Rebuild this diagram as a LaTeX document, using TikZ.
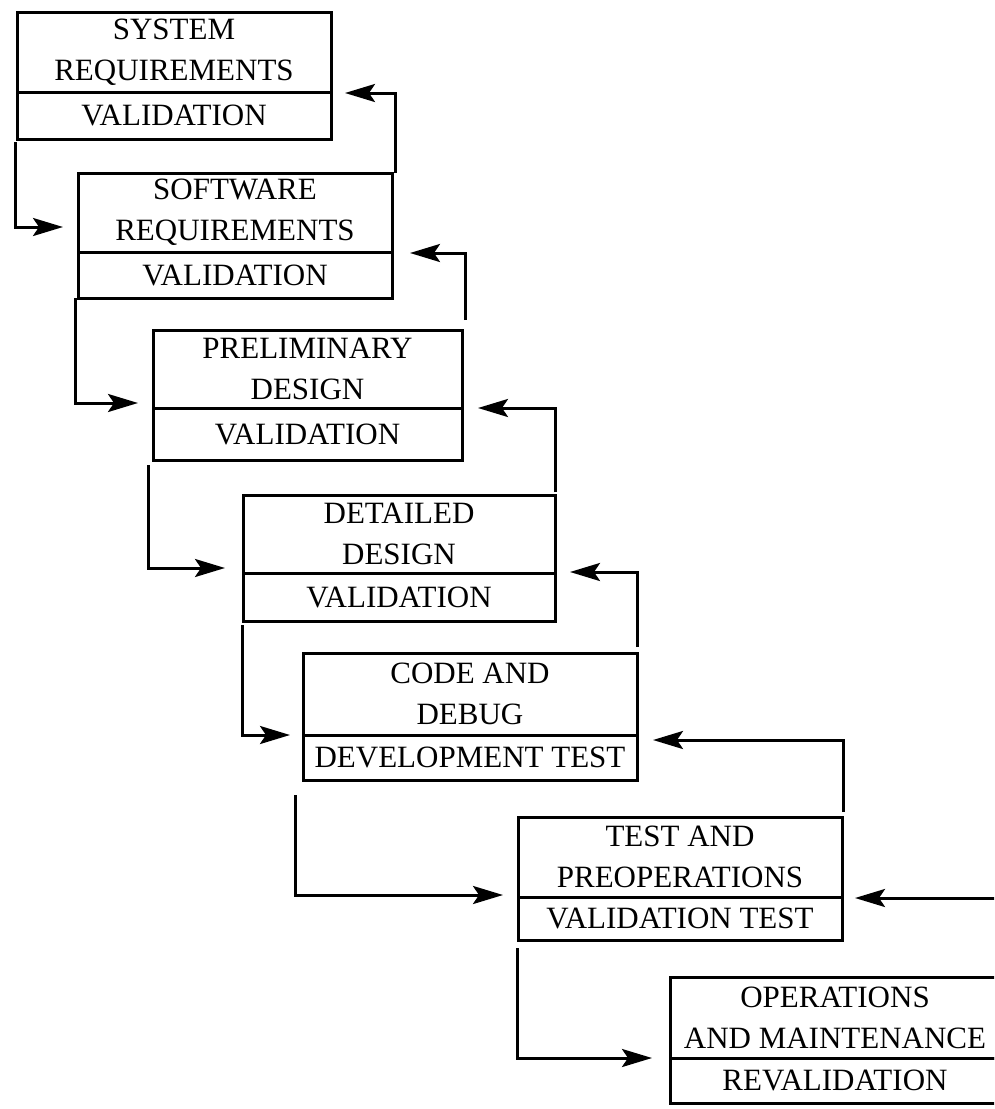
\documentclass[tikz,border=0pt]{standalone}
\usepackage{fontspec}
\setmainfont{Liberation Serif}
\usetikzlibrary{arrows.meta,calc}
% #1 name, #2 left, #3 top, #4 divider, #5 bottom, #6 right, #7 upper text, #8 lower text
\newcommand\phasebox[8]{%
  \node[part, minimum width={#6-#2}, minimum height={#4-#3}] (#1t) at (#2,#3) {#7};
  \node[part, minimum width={#6-#2}, minimum height={#5-#4}] (#1b) at (#2,#4) {#8};}
\begin{document}
\begin{tikzpicture}[x=1pt,y=-1pt,
  part/.style={draw, line width=3pt, rectangle, inner sep=0pt, outer sep=0pt,
    anchor=north west, align=center, font=\fontsize{31}{41}\selectfont},
  flow/.style={line width=3pt, -{Stealth[length=30pt,width=18pt,inset=6pt]}}]
\useasboundingbox (0,0) rectangle (994,1109);
\clip (0,0) rectangle (994,1109);
\fill[white] (0,0) rectangle (994,1109);

\phasebox{b1}{17}{12}{92}{139}{331}{SYSTEM\\REQUIREMENTS}{VALIDATION}
\phasebox{b2}{78}{173}{252}{298}{392}{SOFTWARE\\REQUIREMENTS}{VALIDATION}
\phasebox{b3}{153}{330}{408}{460}{462}{PRELIMINARY\\DESIGN}{VALIDATION}
\phasebox{b4}{243}{495}{573}{621}{555}{DETAILED\\DESIGN}{VALIDATION}
\phasebox{b5}{303}{653}{735}{780}{637}{CODE AND\\DEBUG}{DEVELOPMENT TEST}
\phasebox{b6}{518}{817}{897}{940}{842}{TEST AND\\PREOPERATIONS}{VALIDATION TEST}
\phasebox{b7}{670}{977}{1058}{1103}{1000}{OPERATIONS\\AND MAINTENANCE}{REVALIDATION}

% downward flow
\draw[flow] ([xshift=-2pt,yshift=-3pt]b1b.south west) |- ([xshift=-15pt,yshift=25pt]b2b.north west);
\draw[flow] ([xshift=-3pt]b2b.south west) |- ([xshift=-15pt,yshift=5pt]b3b.north west);
\draw[flow] ([xshift=-5pt,yshift=-5pt]b3b.south west) |- ([xshift=-18pt,yshift=5pt]b4b.north west);
\draw[flow] ([xshift=-1pt,yshift=-4pt]b4b.south west) |- ([xshift=-13pt]b5b.north west);
\draw[flow] ([xshift=-8pt,yshift=-15pt]b5b.south west) |- ([xshift=-15pt,yshift=2pt]b6b.north west);
\draw[flow] ([xshift=-1pt,yshift=-8pt]b6b.south west) |- ([xshift=-18pt]b7b.north west);

% feedback
\draw[flow] ([xshift=3pt]b2t.north east) |- ([xshift=14pt,yshift=-1pt]b1b.north east);
\draw[flow] ([xshift=3pt,yshift=10pt]b3t.north east) |- ([xshift=18pt,yshift=-1pt]b2b.north east);
\draw[flow] ([yshift=3pt]b4t.north east) |- ([xshift=16pt]b3b.north east);
\draw[flow] ([yshift=6pt]b5t.north east) |- ([xshift=15pt,yshift=1pt]b4b.north east);
\draw[flow] ([xshift=1pt,yshift=5pt]b6t.north east) |- ([xshift=16pt,yshift=-5pt]b5b.north east);
\coordinate (ext) at (1000,898);
\draw[flow] (ext) -- ([xshift=13pt,yshift=-1pt]b6b.north east);
\end{tikzpicture}
\end{document}
